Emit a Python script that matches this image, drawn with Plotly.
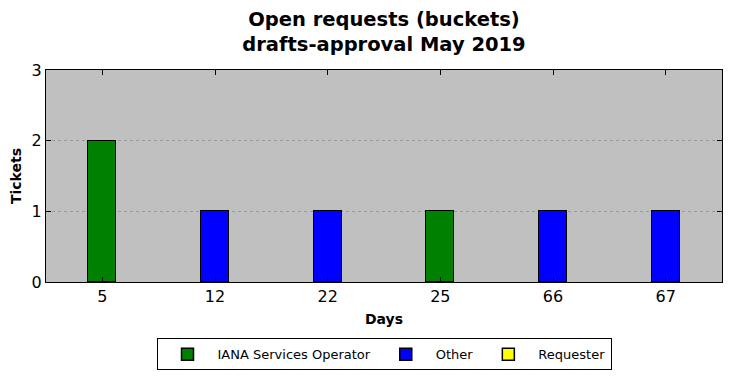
import plotly.graph_objects as go

days = ["5", "12", "22", "25", "66", "67"]
iana = [2, 0, 0, 1, 0, 0]
other = [0, 1, 1, 0, 1, 1]
requester = [0, 0, 0, 0, 0, 0]

def nz(v):
    return [x if x != 0 else None for x in v]

fig = go.Figure()
for name, vals, col in [("IANA Services Operator", iana, "#008000"),
                        ("Other", other, "#0000ff"),
                        ("Requester", requester, "#ffff00")]:
    fig.add_trace(go.Bar(x=days, y=nz(vals), name=name, width=0.25,
                         marker=dict(color=col, line=dict(color="black", width=1.5))))

fig.update_layout(
    width=731, height=378,
    barmode="stack",
    paper_bgcolor="white",
    plot_bgcolor="#c0c0c0",
    font=dict(family="DejaVu Sans", color="black"),
    margin=dict(l=38, r=17, t=62, b=104, autoexpand=False),
    title=dict(text="<b>Open requests (buckets)<br>drafts-approval May 2019</b>",
               x=0.5, xref="paper", xanchor="center", yref="container",
               y=0.953, yanchor="middle",
               font=dict(size=19.5)),
    xaxis=dict(type="category", range=[-0.5, 5.5], showline=True, linecolor="black",
               linewidth=1, mirror="ticks", ticks="inside", ticklen=5, tickcolor="black",
               tickfont=dict(size=16), showgrid=False, automargin=False,
               title=dict(text="<b>Days</b>", font=dict(size=14), standoff=8)),
    yaxis=dict(range=[0, 3], dtick=1, showline=True, linecolor="black", linewidth=1,
               mirror="ticks", ticks="inside", ticklen=5, tickcolor="black",
               tickfont=dict(size=16), showgrid=True, gridcolor="#999999",
               griddash="dot", gridwidth=1, zeroline=False, automargin=False,
               title=dict(text="<b>Tickets</b>", font=dict(size=14), standoff=6)),
    legend=dict(orientation="h", x=0.5, xanchor="center", y=-0.265, yanchor="top",
                bordercolor="black", borderwidth=1, bgcolor="white",
                font=dict(size=13), traceorder="normal", itemwidth=50,
                tracegroupgap=0),
    bargap=0,
)

fig.write_html("out.html")
